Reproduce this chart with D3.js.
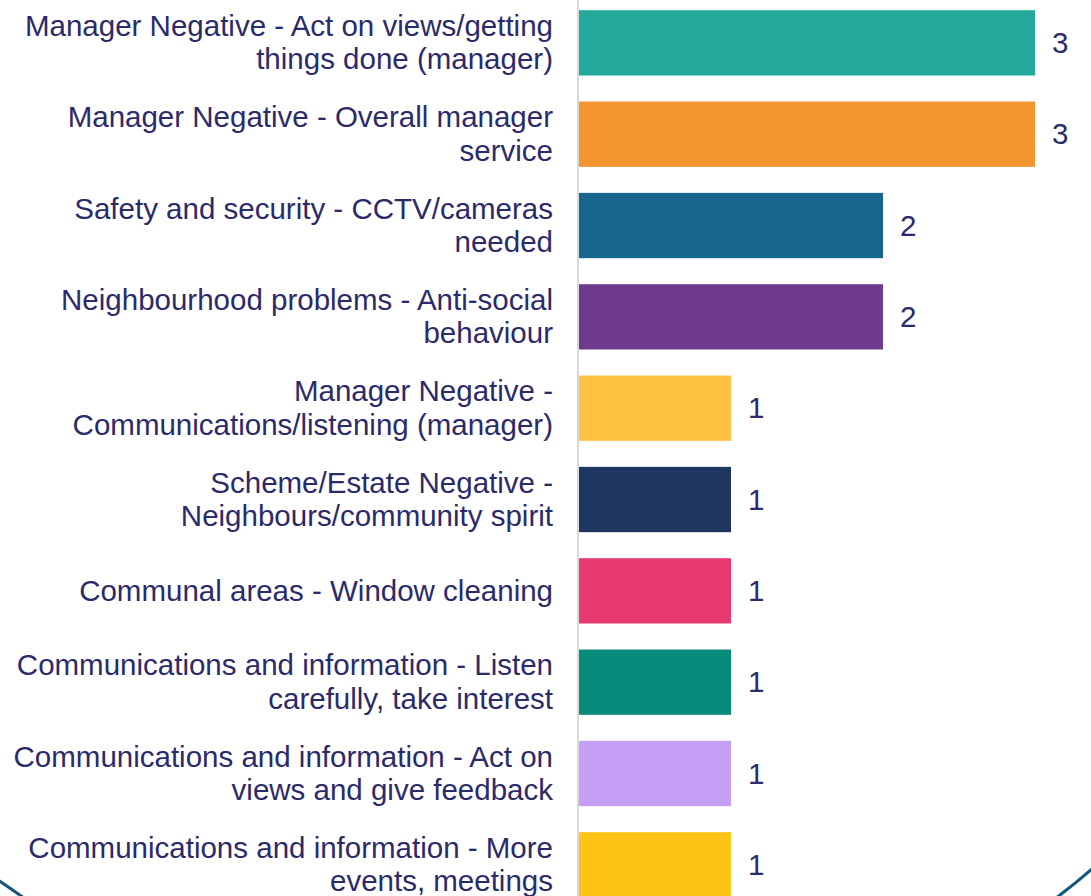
<!DOCTYPE html>
<html>
<head>
<meta charset="utf-8">
<script src="https://cdn.jsdelivr.net/npm/d3@7"></script>
<style>
  body { margin: 0; background: #fff; }
  svg { display: block; font-family: "Liberation Sans", Arial, sans-serif; }
</style>
</head>
<body>
<div id="chart-area"></div>
<script>
// labels keep the line breaks seen in the picture
const categories = [
    "Manager Negative - Act on views/getting\nthings done (manager)",
    "Manager Negative - Overall manager\nservice",
    "Safety and security - CCTV/cameras\nneeded",
    "Neighbourhood problems - Anti-social\nbehaviour",
    "Manager Negative -\nCommunications/listening (manager)",
    "Scheme/Estate Negative -\nNeighbours/community spirit",
    "Communal areas - Window cleaning",
    "Communications and information - Listen\ncarefully, take interest",
    "Communications and information - Act on\nviews and give feedback",
    "Communications and information - More\nevents, meetings"
];
const counts = [3, 3, 2, 2, 1, 1, 1, 1, 1, 1];
const barColors = [
    "#22a99a", "#f2952f", "#16658c", "#6e3a8c", "#fdc13f",
    "#1f3660", "#e8396f", "#078b7b", "#c59ff5", "#fdc315"
];

const chartSize = { width: 1091, height: 896 };
const textColor = "#2b2a6b";
const fontSize = 29.5;

const svg = d3.select("#chart-area")
    .append("svg")
    .attr("width", chartSize.width)
    .attr("height", chartSize.height);

const y = d3.scaleBand()
    .domain(categories)
    .range([-2.8, 910.5])
    .paddingInner(0.285)
    .paddingOuter(0.1425);

const x = d3.scaleLinear()
    .domain([0, 3])
    .range([579, 1035]);

// decorative frame corners
svg.append("path")
    .attr("d", "M-2,880 Q10,888 24,898")
    .attr("fill", "none")
    .attr("stroke", "#14587e")
    .attr("stroke-width", 3);
svg.append("path")
    .attr("d", "M1056,898 Q1075,884 1093,868")
    .attr("fill", "none")
    .attr("stroke", "#14587e")
    .attr("stroke-width", 3);

// category axis line
svg.append("line")
    .attr("x1", x(0) - 1).attr("x2", x(0) - 1)
    .attr("y1", 0).attr("y2", chartSize.height)
    .attr("stroke", "#d9d9d9")
    .attr("stroke-width", 2);

const rows = svg.selectAll(".row")
    .data(categories.map((c, i) => ({ c, v: counts[i], col: barColors[i] })))
    .join("g")
    .attr("class", "row");

rows.append("rect")
    .attr("x", x(0))
    .attr("y", d => y(d.c))
    .attr("width", d => x(d.v) - x(0))
    .attr("height", y.bandwidth())
    .attr("fill", d => d.col);

rows.append("text")
    .attr("x", d => x(d.v) + 17)
    .attr("y", d => y(d.c) + y.bandwidth() / 2 + 10)
    .attr("font-size", fontSize)
    .attr("fill", textColor)
    .text(d => d.v);

rows.each(function(d) {
    const lines = d.c.split("\n");
    const mid = y(d.c) + y.bandwidth() / 2;
    const first = lines.length === 1 ? mid + 10 : mid - 7;
    const t = d3.select(this).append("text")
        .attr("text-anchor", "end")
        .attr("font-size", fontSize)
        .attr("fill", textColor);
    lines.forEach((line, i) => {
        t.append("tspan")
            .attr("x", 553)
            .attr("y", first + i * 33.5)
            .text(line);
    });
});
</script>
</body>
</html>
